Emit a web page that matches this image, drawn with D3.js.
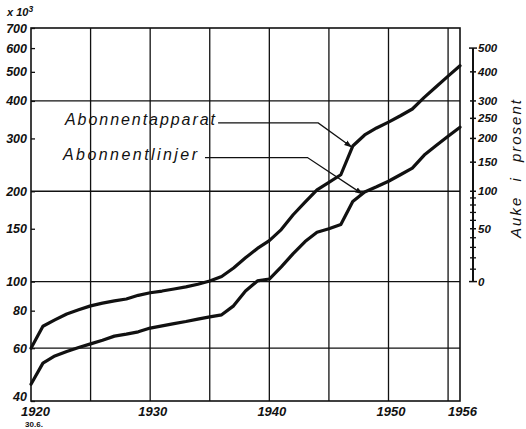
<!DOCTYPE html>
<html><head><meta charset="utf-8">
<script src="https://cdn.jsdelivr.net/npm/d3@7"></script>
<style>
html,body{margin:0;padding:0;background:#fff;}
svg{display:block;}
text{font-family:"Liberation Sans",Arial,sans-serif;fill:#111;}
</style></head>
<body>
<script>
const years = [1920,1921,1922,1923,1924,1925,1926,1927,1928,1929,1930,1931,1932,1933,1934,1935,1936,1937,1938,1939,1940,1941,1942,1943,1944,1945,1946,1947,1948,1949,1950,1951,1952,1953,1954,1955,1956];
const apparat = [60,71,74.5,78,80.5,83,84.8,86.2,87.5,90,91.8,93,94.5,96,98,100.5,104,111,120,129,137,149,167,184,202,214,227,283,308,325,340,357,376,411,446,484,524];
const linjer = [45.5,53.5,56.5,58.5,60.3,62,63.8,65.8,66.8,68,70,71.2,72.4,73.6,75,76.3,77.5,83,93,100.5,102,112,124,136,146,150,155,185,199,207,216,227,239,264,284,305,327];
const leftTicks = [40,60,80,100,150,200,300,400,500,600,700];
const gridValues = [60,100,200,400];
const gridYears = [1925,1930,1935,1940,1945,1950,1955];
const xLabels = [1920,1930,1940,1950,1956];
const rightMajor = [0,50,100,150,200,250,300,400,500];
const rightMinor = [10,20,30,40,60,70,80,90];
const seriesNames = ["Abonnentapparat","Abonnentlinjer"];

const W=526,H=429;
const svg=d3.select("body").append("svg").attr("width",W).attr("height",H);
const x=d3.scaleLinear().domain([1920,1956]).range([31,460]);
const y=d3.scaleLog().domain([40,700]).range([401,28]);
const ink="#111";

// grid
const g=svg.append("g").attr("stroke",ink).attr("stroke-width",1.3);
gridValues.forEach(v=>g.append("line").attr("x1",x(1920)).attr("x2",x(1956)).attr("y1",y(v)).attr("y2",y(v)));
gridYears.forEach(t=>g.append("line").attr("x1",x(t)).attr("x2",x(t)).attr("y1",y(40)).attr("y2",y(700)));
g.append("rect").attr("x",x(1920)).attr("y",y(700)).attr("width",x(1956)-x(1920)).attr("height",y(40)-y(700)).attr("fill","none").attr("stroke-width",1.6);

// left axis
const la=svg.append("g").attr("transform",`translate(${x(1920)},0)`)
 .call(d3.axisLeft(y).tickValues(leftTicks).tickSize(-4).tickPadding(4).tickFormat(d3.format("d")));
la.select(".domain").remove();
la.selectAll("line").attr("stroke",ink).attr("stroke-width",1.3);
la.selectAll("text").attr("font-size",12.5).attr("font-weight","bold").attr("font-style","italic").attr("fill",ink)
 .attr("dy",d=>d===40?"-0.05em":"0.32em");

svg.append("text").attr("x",7).attr("y",16).attr("font-size",11).attr("font-weight","bold").attr("font-style","italic")
 .text("x 10").append("tspan").attr("dy",-4).attr("font-size",8.5).text("3");

// bottom labels
const ba=svg.append("g").attr("transform",`translate(0,${y(40)})`)
 .call(d3.axisBottom(x).tickValues(xLabels).tickSize(0).tickPadding(6).tickFormat(d3.format("d")));
ba.select(".domain").remove();
ba.selectAll("text").attr("font-size",13).attr("font-weight","bold").attr("font-style","italic").attr("fill",ink)
 .attr("dx",(d)=>d===1920?4:2);
svg.append("text").attr("x",x(1920)+3).attr("y",427).attr("text-anchor","middle").attr("font-size",8).attr("font-weight","bold").text("30.6.");

// right axis (percent increase relative to 100)
const rx=473;
const ra=svg.append("g").attr("stroke",ink);
ra.append("line").attr("x1",rx).attr("x2",rx).attr("y1",y(600)).attr("y2",y(100)).attr("stroke-width",2);
rightMajor.forEach(p=>{
  const yy=y(100+p);
  const half=(p===0||p===500)?4:3;
  ra.append("line").attr("x1",rx-half).attr("x2",rx+half).attr("y1",yy).attr("y2",yy).attr("stroke-width",1.5);
  svg.append("text").attr("x",rx+5).attr("y",yy).attr("dy","0.35em").attr("font-size",11.5).attr("font-style","italic").attr("font-weight","bold").text(p);
});
rightMinor.forEach(p=>{
  const yy=y(100+p);
  ra.append("line").attr("x1",rx-3).attr("x2",rx+3).attr("y1",yy).attr("y2",yy).attr("stroke-width",1.3);
});
svg.append("text").attr("transform",`translate(521,168) rotate(-90)`).attr("text-anchor","middle")
 .attr("font-size",15).attr("font-style","italic").attr("letter-spacing",2).attr("word-spacing",8).text("Auke i prosent");

// curves
const line=d3.line().x((d,i)=>x(years[i])).y(d=>y(d)).curve(d3.curveLinear);
[apparat,linjer].forEach(s=>{
  svg.append("path").datum(s).attr("d",line).attr("fill","none").attr("stroke",ink).attr("stroke-width",3.2).attr("stroke-linejoin","round").attr("stroke-linecap","round");
});

// annotations
svg.append("defs").append("marker").attr("id","ah").attr("viewBox","0 0 10 10").attr("refX",9).attr("refY",5)
 .attr("markerWidth",8).attr("markerHeight",8).attr("markerUnits","userSpaceOnUse").attr("orient","auto")
 .append("path").attr("d","M0,1.5L10,5L0,8.5Z").attr("fill",ink);
const ann=[
  {name:seriesNames[0],tx:65,tl:150,lx0:1935.7,lx1:1944.1,lv:338,ax:1946.9,av:281},
  {name:seriesNames[1],tx:63,tl:134,lx0:1934.6,lx1:1943.2,lv:259,ax:1947.8,av:196}
];
ann.forEach(a=>{
  svg.append("text").attr("x",a.tx).attr("y",y(a.lv)+2).attr("font-size",16).attr("font-style","italic")
   .attr("textLength",a.tl).attr("lengthAdjust","spacing").text(a.name);
  svg.append("path").attr("d",`M${x(a.lx0)},${y(a.lv)}L${x(a.lx1)},${y(a.lv)}L${x(a.ax)},${y(a.av)}`)
   .attr("fill","none").attr("stroke",ink).attr("stroke-width",1.3).attr("marker-end","url(#ah)");
});
</script>
</body></html>
